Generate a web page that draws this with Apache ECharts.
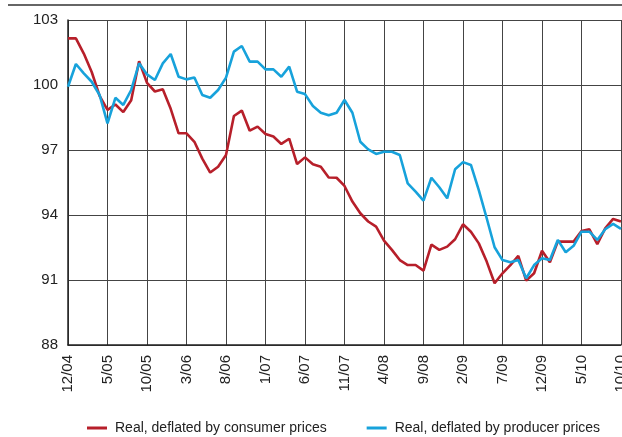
<!DOCTYPE html>
<html>
<head>
<meta charset="utf-8">
<script src="https://cdn.jsdelivr.net/npm/echarts@6/dist/echarts.min.js"></script>
<style>
  html, body { margin: 0; padding: 0; background: #fff; }
  #mainChart { width: 622px; height: 437px; }
</style>
</head>
<body>
<div id="mainChart"></div>
<script>
// monthly, Dec 2004 .. Oct 2010
var months = [
  '12/04',
  '1/05', '2/05', '3/05', '4/05', '5/05', '6/05', '7/05', '8/05', '9/05', '10/05', '11/05', '12/05',
  '1/06', '2/06', '3/06', '4/06', '5/06', '6/06', '7/06', '8/06', '9/06', '10/06', '11/06', '12/06',
  '1/07', '2/07', '3/07', '4/07', '5/07', '6/07', '7/07', '8/07', '9/07', '10/07', '11/07', '12/07',
  '1/08', '2/08', '3/08', '4/08', '5/08', '6/08', '7/08', '8/08', '9/08', '10/08', '11/08', '12/08',
  '1/09', '2/09', '3/09', '4/09', '5/09', '6/09', '7/09', '8/09', '9/09', '10/09', '11/09', '12/09',
  '1/10', '2/10', '3/10', '4/10', '5/10', '6/10', '7/10', '8/10', '9/10', '10/10'
];

var consumerReal = [
  102.15, 102.15, 101.45, 100.6, 99.5, 98.85, 99.1, 98.75, 99.3, 101.1,
  100.1, 99.7, 99.8, 98.9, 97.77, 97.77, 97.38, 96.6, 95.96, 96.23,
  96.77, 98.57, 98.82, 97.89, 98.08, 97.74, 97.62, 97.28, 97.52, 96.35,
  96.66, 96.34, 96.23, 95.73, 95.72, 95.34, 94.62, 94.08, 93.7, 93.46,
  92.82, 92.39, 91.92, 91.69, 91.69, 91.43, 92.63, 92.39, 92.54, 92.88,
  93.57, 93.23, 92.69, 91.85, 90.85, 91.31, 91.69, 92.11, 90.97, 91.31,
  92.35, 91.82, 92.77, 92.77, 92.77, 93.26, 93.34, 92.65, 93.38, 93.82,
  93.7
];

var producerReal = [
  99.92, 100.97, 100.54, 100.15, 99.54, 98.23, 99.41, 99.08, 99.77, 101.0,
  100.49, 100.23, 101.0, 101.43, 100.38, 100.26, 100.35, 99.54, 99.41, 99.77,
  100.34, 101.54, 101.8, 101.08, 101.08, 100.72, 100.72, 100.38, 100.85, 99.69,
  99.58, 99.03, 98.72, 98.6, 98.72, 99.31, 98.72, 97.38, 97.03, 96.82,
  96.92, 96.92, 96.77, 95.46, 95.08, 94.66, 95.72, 95.28, 94.77, 96.11,
  96.44, 96.31, 95.15, 93.85, 92.51, 91.92, 91.82, 91.92, 91.08, 91.69,
  92.0, 91.92, 92.85, 92.28, 92.58, 93.23, 93.23, 92.85, 93.34, 93.59,
  93.36
];

var seriesNames = ['Real, deflated by consumer prices', 'Real, deflated by producer prices'];
var yTicks = { min: 88, max: 103, step: 3 };

var fontFam = '"Liberation Sans", Arial, sans-serif';

var myChart = echarts.init(document.getElementById('mainChart'));
myChart.setOption({
  animation: false,
  textStyle: { fontFamily: fontFam },
  grid: { left: 68, right: 1, top: 20, bottom: 92, containLabel: false, outerBoundsMode: 'none' },
  graphic: [
    {
      type: 'line',
      shape: { x1: 8, y1: 5, x2: 622, y2: 5 },
      style: { stroke: '#666', lineWidth: 2 }
    }
  ],
  legend: {
    left: 87,
    top: 421,
    padding: 0,
    itemWidth: 20,
    itemHeight: 3,
    itemGap: 40,
    icon: 'rect',
    textStyle: { fontFamily: fontFam, fontSize: 14, color: '#222', padding: [0, 0, 0, 3] },
    data: seriesNames
  },
  xAxis: {
    type: 'category',
    data: months,
    boundaryGap: false,
    axisLine: { lineStyle: { color: '#222', width: 1.5 } },
    axisTick: { show: false },
    axisLabel: {
      interval: 4,
      rotate: 90,
      margin: 10,
      fontSize: 15,
      color: '#222',
      fontFamily: fontFam
    },
    splitLine: { show: true, interval: 4, lineStyle: { color: '#444', width: 1 } }
  },
  yAxis: {
    type: 'value',
    min: yTicks.min,
    max: yTicks.max,
    interval: yTicks.step,
    axisLine: { show: true, lineStyle: { color: '#222', width: 1.5 } },
    axisTick: { show: false },
    axisLabel: { fontSize: 15, color: '#222', margin: 10, fontFamily: fontFam },
    splitLine: { show: true, lineStyle: { color: '#444', width: 1 } }
  },
  series: [
    {
      name: seriesNames[0],
      type: 'line',
      data: consumerReal,
      symbol: 'none',
      lineStyle: { color: '#B71F2A', width: 2.6 },
      itemStyle: { color: '#B71F2A' }
    },
    {
      name: seriesNames[1],
      type: 'line',
      data: producerReal,
      symbol: 'none',
      lineStyle: { color: '#17A2DB', width: 2.6 },
      itemStyle: { color: '#17A2DB' }
    }
  ]
});
</script>
</body>
</html>
